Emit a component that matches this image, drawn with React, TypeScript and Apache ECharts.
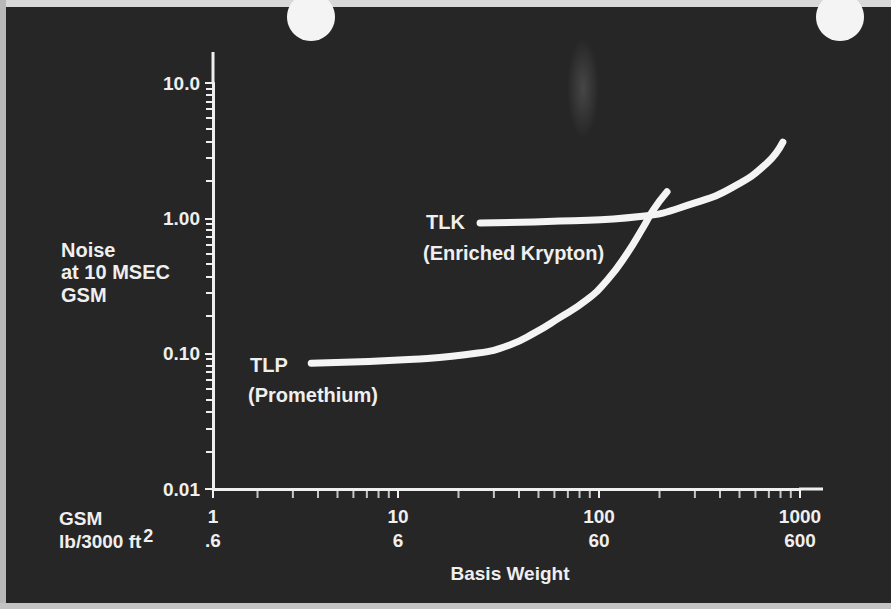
import React, { useEffect, useRef } from "react";
import * as echarts from "echarts";

// TLP (Promethium) curve: basis weight (GSM) vs noise
const tlpWeight = [3.7, 12, 25, 36, 48, 62, 87, 110, 138, 166, 186, 218];
const tlpNoise = [0.085, 0.091, 0.101, 0.116, 0.143, 0.18, 0.25, 0.35, 0.55, 0.86, 1.15, 1.57];

// TLK (Enriched Krypton) curve
const tlkWeight = [25.6, 64, 160, 300, 464, 685, 822];
const tlkNoise = [0.924, 0.955, 1.03, 1.3, 1.7, 2.56, 3.66];

// axis tick labels
const yTickLabels: Record<string, string> = { "-2": "0.01", "-1": "0.10", "0": "1.00", "1": "10.0" };
const xTickLabels: Record<string, string> = { "1": "10\n6", "2": "100\n60", "3": "1000\n600" };
const xFirstLabel = "1\n.6";

// minor ticks on the basis-weight axis
const xMinorTicks = [2, 3, 4, 5, 6, 7, 8, 9, 20, 30, 40, 50, 60, 70, 80, 90, 200, 300, 400, 500, 600, 700, 800, 900];

const FG = "#efefef";
const FONT = '"Liberation Sans", Arial, sans-serif';

export default function App() {
  const ref = useRef<HTMLDivElement>(null);
  useEffect(() => {
    if (!ref.current) return;
    const chart = echarts.init(ref.current, null, { renderer: "svg" });
    const xMin = Math.pow(10, 1 - 185 / 201);
    const txt = (text: string, x: number, y: number, size: number, extra: any = {}) => ({
      type: "text",
      x,
      y,
      style: {
        text,
        fill: FG,
        fontFamily: FONT,
        fontWeight: "bold",
        fontSize: size,
        textVerticalAlign: "middle",
        ...extra,
      },
      z: 10,
    });
    const lineSeries = (w: number[], n: number[], z: number) => ({
      type: "line",
      data: w.map((x, i) => [x, n[i]]),
      smooth: 0.5,
      showSymbol: false,
      symbol: "none",
      lineStyle: { color: "#f4f4f4", width: 7, cap: "round", join: "round" },
      z,
    });
    chart.setOption({
      animation: false,
      backgroundColor: "#262626",
      grid: { left: 213, right: 91, top: 83, bottom: 120 },
      xAxis: {
        type: "log",
        logBase: 10,
        min: xMin,
        max: 1000,
        axisLine: { lineStyle: { color: FG, width: 3 } },
        axisTick: { length: 9, lineStyle: { color: FG, width: 2 } },
        splitLine: { show: false },
        axisLabel: {
          color: FG,
          fontFamily: FONT,
          fontWeight: "bold",
          fontSize: 19,
          lineHeight: 24,
          margin: 15,
          showMaxLabel: true,
          showMinLabel: true,
          formatter: (v: number) => {
            const lv = Math.log10(v);
            const r = Math.round(lv);
            if (Math.abs(lv - r) > 0.01) return lv < 0.5 ? xFirstLabel : "";
            return xTickLabels[String(r)] ?? "";
          },
        },
      },
      yAxis: {
        type: "log",
        logBase: 10,
        min: 0.01,
        max: 10,
        axisLine: { lineStyle: { color: FG, width: 3 } },
        axisTick: { length: 8, lineStyle: { color: FG, width: 2 } },
        minorTick: { show: true, splitNumber: 10, length: 7, lineStyle: { color: FG, width: 2 } },
        splitLine: { show: false },
        axisLabel: {
          color: FG,
          fontFamily: FONT,
          fontWeight: "bold",
          fontSize: 19,
          margin: 13,
          formatter: (v: number) => yTickLabels[String(Math.round(Math.log10(v)))] ?? "",
        },
      },
      series: [
        lineSeries(tlkWeight, tlkNoise, 3),
        lineSeries(tlpWeight, tlpNoise, 4),
        {
          type: "scatter",
          data: xMinorTicks.map((w) => [w, 0.01]),
          symbol: "rect",
          symbolSize: [2, 8],
          symbolOffset: [0, 5],
          itemStyle: { color: FG },
          clip: false,
          silent: true,
          z: 2,
        },
      ],
      graphic: [
        // slide frame details
        { type: "rect", shape: { x: 0, y: 0, width: 891, height: 7 }, style: { fill: "#d8d8d8" } },
        { type: "rect", shape: { x: 0, y: 0, width: 6, height: 609 }, style: { fill: "#b8b8b8" } },
        { type: "rect", shape: { x: 0, y: 603, width: 891, height: 6 }, style: { fill: "#c4c4c4" } },
        { type: "circle", shape: { cx: 311, cy: 17, r: 24 }, style: { fill: "#f4f4f4" } },
        { type: "circle", shape: { cx: 840, cy: 17, r: 24 }, style: { fill: "#f4f4f4" } },
        {
          type: "ellipse",
          shape: { cx: 583, cy: 88, rx: 16, ry: 50 },
          style: {
            fill: {
              type: "radial",
              x: 0.5,
              y: 0.5,
              r: 0.5,
              colorStops: [
                { offset: 0, color: "rgba(110,110,110,0.45)" },
                { offset: 1, color: "rgba(110,110,110,0)" },
              ],
            },
          },
        },
        // axis line extensions
        { type: "line", shape: { x1: 213, y1: 52, x2: 213, y2: 84 }, style: { stroke: FG, lineWidth: 3 } },
        { type: "line", shape: { x1: 799, y1: 489, x2: 823, y2: 489 }, style: { stroke: FG, lineWidth: 3 } },
        // axis titles
        txt("Noise", 61, 250, 20),
        txt("at 10 MSEC", 61, 272, 20),
        txt("GSM", 61, 295, 20),
        txt("GSM", 59, 518, 19),
        {
          type: "text",
          x: 59,
          y: 541,
          z: 10,
          style: {
            text: "lb/3000 ft{sup|2}",
            fill: FG,
            fontFamily: FONT,
            fontWeight: "bold",
            fontSize: 19,
            textVerticalAlign: "middle",
            rich: { sup: { fontSize: 18, fontWeight: "bold", fontFamily: FONT, fill: FG, padding: [0, 0, 10, 2] } },
          },
        },
        txt("Basis Weight", 510, 573, 19, { textAlign: "center" }),
        // curve annotations
        txt("TLK", 426, 222, 20),
        txt("(Enriched Krypton)", 423, 253, 20),
        txt("TLP", 250, 365, 20),
        txt("(Promethium)", 248, 395, 20),
      ],
    });
    return () => chart.dispose();
  }, []);
  return (
    <div
      ref={ref}
      style={{ position: "fixed", left: 0, top: 0, width: 891, height: 609 }}
    />
  );
}
